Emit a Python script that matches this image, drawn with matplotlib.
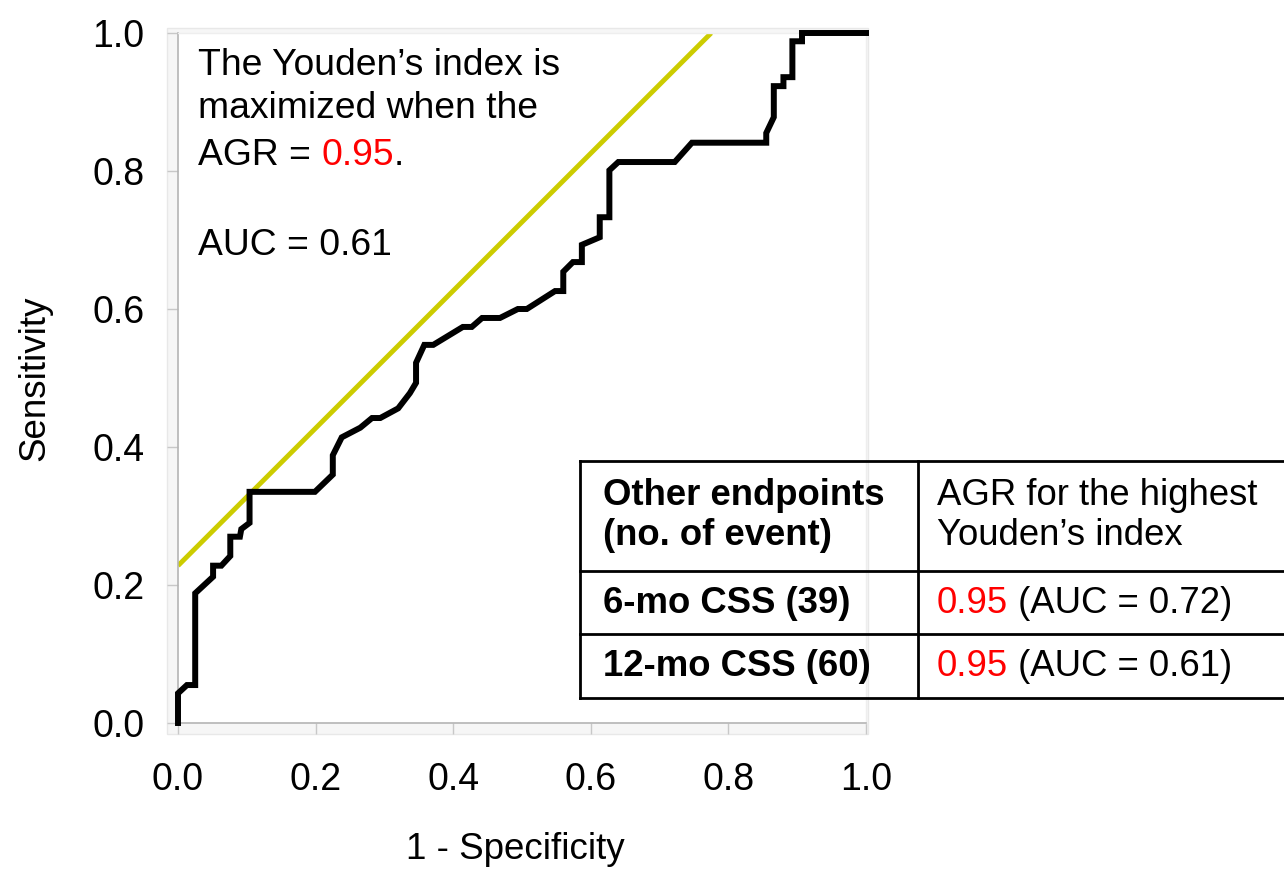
import matplotlib
matplotlib.use("Agg")
import matplotlib.pyplot as plt
from matplotlib.patches import Rectangle
from matplotlib.lines import Line2D

plt.rcParams['font.family'] = ['Liberation Sans', 'DejaVu Sans']

# ROC curve (1 - specificity, sensitivity)
fpr = [0, 0, 0.013, 0.025, 0.025, 0.051, 0.051, 0.063, 0.076, 0.076, 0.090, 0.092,
       0.104, 0.104, 0.199, 0.225, 0.225, 0.238, 0.265, 0.282, 0.294, 0.320, 0.337,
       0.346, 0.346, 0.358, 0.371, 0.414, 0.427, 0.442, 0.468, 0.494, 0.507, 0.548,
       0.560, 0.560, 0.574, 0.587, 0.587, 0.613, 0.613, 0.627, 0.627, 0.640, 0.722,
       0.747, 0.855, 0.855, 0.866, 0.866, 0.880, 0.880, 0.893, 0.893, 0.907, 0.907, 1.0]
tpr = [0, 0.043, 0.055, 0.055, 0.188, 0.212, 0.228, 0.228, 0.242, 0.270, 0.270, 0.281,
       0.290, 0.335, 0.335, 0.360, 0.388, 0.414, 0.428, 0.442, 0.442, 0.456, 0.478,
       0.493, 0.522, 0.548, 0.548, 0.574, 0.574, 0.587, 0.587, 0.600, 0.600, 0.626,
       0.626, 0.654, 0.668, 0.668, 0.693, 0.704, 0.733, 0.733, 0.801, 0.813, 0.813,
       0.841, 0.841, 0.855, 0.878, 0.923, 0.923, 0.936, 0.936, 0.988, 0.988, 1.0, 1.0]

# Youden's index tangent line
youden_x = [0.0, 0.775]
youden_y = [0.228, 1.0]

ticks = [0.0, 0.2, 0.4, 0.6, 0.8, 1.0]
tick_labels = ["0.0", "0.2", "0.4", "0.6", "0.8", "1.0"]

table_header = ["Other endpoints\n(no. of event)", "AGR for the highest\nYouden\u2019s index"]
table_endpoints = ["6-mo CSS (39)", "12-mo CSS (60)"]
table_agr = ["0.95", "0.95"]
table_auc = [" (AUC = 0.72)", " (AUC = 0.61)"]

W, H = 1284, 869
fig = plt.figure(figsize=(W / 100, H / 100), dpi=100)

def fx(px):
    return px / W

def fy(py):
    return 1 - py / H

# plot-area frame (light gray)
fig.add_artist(Rectangle((fx(167), fy(734)), fx(868) - fx(167), fy(28) - fy(734),
                         transform=fig.transFigure, facecolor='#f6f6f6',
                         edgecolor='#e8e8e8', lw=1, zorder=0))

ax = fig.add_axes([fx(178), fy(723), fx(866) - fx(178), fy(33) - fy(723)])
ax.set_xlim(0, 1)
ax.set_ylim(0, 1)
ax.set_facecolor('white')

ax.plot(youden_x, youden_y, color='#cccc00', lw=3.5, solid_capstyle='butt', zorder=2)
ax.plot(fpr, tpr, color='black', lw=4.3, solid_joinstyle='miter', clip_on=False, zorder=3)

for s in ['top', 'right']:
    ax.spines[s].set_color('#eeeeee')
    ax.spines[s].set_linewidth(1)
for s in ['left', 'bottom']:
    ax.spines[s].set_color('#b4b4b4')
    ax.spines[s].set_linewidth(1.2)

ax.set_xticks(ticks)
ax.set_xticklabels(tick_labels)
ax.set_yticks(ticks)
ax.set_yticklabels(tick_labels)
ax.tick_params(axis='both', direction='out', length=8, width=1, color='#c8c8c8',
               labelsize=27, labelcolor='black')
ax.tick_params(axis='x', pad=20)
ax.tick_params(axis='y', pad=16)

ax.set_xlabel("1 - Specificity", fontsize=26.5)
ax.xaxis.set_label_coords(0.49, -0.158)
ax.set_ylabel("Sensitivity", fontsize=26.5)
ax.yaxis.set_label_coords(-0.183, 0.5)

# annotation text
FS = 26.8
fig.text(fx(198), fy(75), "The Youden\u2019s index is", fontsize=FS, va='baseline', ha='left')
fig.text(fx(198), fy(118), "maximized when the", fontsize=FS, va='baseline', ha='left')
t1 = fig.text(fx(198), fy(165), "AGR = ", fontsize=FS, va='baseline', ha='left')
t2 = fig.text(0, 0, "0.95", fontsize=FS, color='red', va='baseline', ha='left')
t3 = fig.text(0, 0, ".", fontsize=FS, va='baseline', ha='left')
fig.text(fx(198), fy(255), "AUC = 0.61", fontsize=FS, va='baseline', ha='left')

# table
TL, TR, TD = 580, 1300, 918
rows_y = [461, 571, 634, 698]
lc = 'black'
lw = 2.0
for yy in rows_y:
    fig.add_artist(Line2D([fx(TL), fx(TR)], [fy(yy), fy(yy)], color=lc, lw=lw,
                          transform=fig.transFigure))
for xx in [TL, TD]:
    fig.add_artist(Line2D([fx(xx), fx(xx)], [fy(rows_y[0]), fy(rows_y[-1])], color=lc,
                          lw=lw, transform=fig.transFigure))

TFS = 26.3
h1 = table_header[0].split("\n")
h2 = table_header[1].split("\n")
fig.text(fx(603), fy(505), h1[0], fontsize=TFS, fontweight='bold', va='baseline')
fig.text(fx(603), fy(545), h1[1], fontsize=TFS, fontweight='bold', va='baseline')
fig.text(fx(937), fy(505), h2[0], fontsize=TFS, va='baseline')
fig.text(fx(937), fy(545), h2[1], fontsize=TFS, va='baseline')

row_base = [613, 676]
pairs = []
for i in range(2):
    fig.text(fx(603), fy(row_base[i]), table_endpoints[i], fontsize=TFS,
             fontweight='bold', va='baseline')
    a = fig.text(fx(937), fy(row_base[i]), table_agr[i], fontsize=TFS, color='red',
                 va='baseline')
    b = fig.text(0, 0, table_auc[i], fontsize=TFS, va='baseline')
    pairs.append((a, b))

# place continuation texts after their predecessors
fig.canvas.draw()
r = fig.canvas.get_renderer()
inv = fig.transFigure.inverted()

def follow(prev, nxt):
    bb = prev.get_window_extent(r)
    x1 = inv.transform((bb.x1, 0))[0]
    nxt.set_position((x1, prev.get_position()[1]))

follow(t1, t2)
fig.canvas.draw()
follow(t2, t3)
for a, b in pairs:
    follow(a, b)

fig.savefig("out.png", dpi=100)
